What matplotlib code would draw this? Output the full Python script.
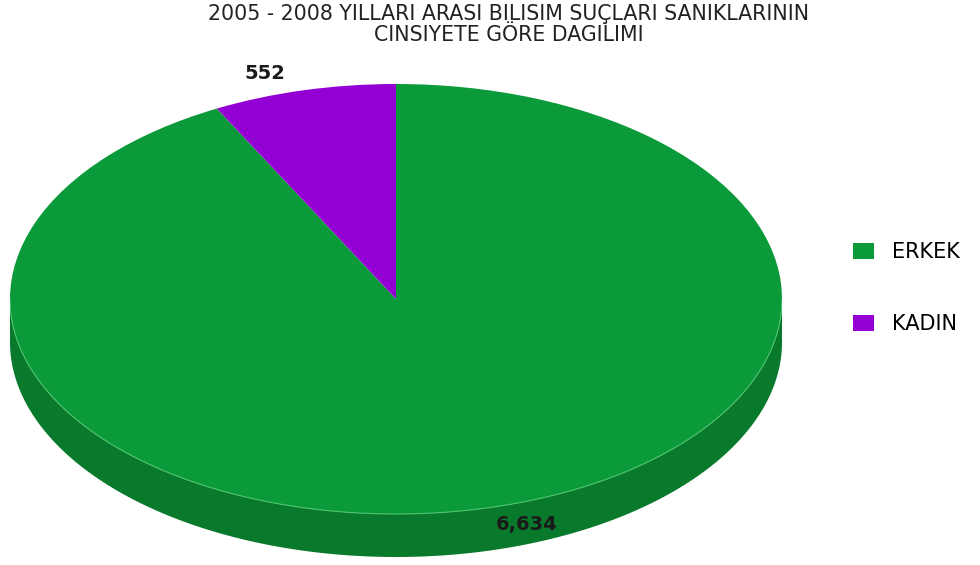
import numpy as np
import matplotlib
matplotlib.use('Agg')
import matplotlib.pyplot as plt
from matplotlib.patches import Patch

labels = ['ERKEK', 'KADIN']
values = [6634, 552]
value_text = ['6,634', '552']
colors = ['#0b9a3a', '#9400d3']
side_color = '#097a2b'
depth = 0.2

fig = plt.figure(figsize=(9.8, 5.65), dpi=100)
fig.patch.set_facecolor('white')
plt.rcParams['font.family'] = ['DejaVu Sans']

# pie body: circle of radius 1 squashed to an ellipse by the axes box
ax = fig.add_axes([10 / 980, 8 / 565, 772 / 980, 473 / 565])

# side wall of the lower half
t = np.linspace(np.pi, 2 * np.pi, 200)
xs = np.concatenate([np.cos(t), np.cos(t[::-1])])
ys = np.concatenate([np.sin(t), np.sin(t[::-1]) - depth])
ax.fill(xs, ys, color=side_color, lw=0, zorder=1)

wedges, _ = ax.pie(values, colors=colors, startangle=90, counterclock=False,
                   wedgeprops=dict(linewidth=0), radius=1)
for w in wedges:
    w.set_zorder(2)
# light rim along the front edge
ax.plot(np.cos(t), np.sin(t), color='#4cc46c', lw=0.8, zorder=3)

ax.set_aspect('auto')
ax.set_xlim(-1, 1)
ax.set_ylim(-1 - depth, 1)
ax.axis('off')

# value labels at each wedge's middle angle
for w, txt in zip(wedges, value_text):
    mid = np.deg2rad((w.theta1 + w.theta2) / 2)
    ax.text(1.42 * np.cos(mid), 1.08 * np.sin(mid), txt, ha='center', va='center',
            fontsize=14, fontweight='bold', color='#1a1a1a', zorder=4)

fig.text(509 / 980, 1 - 14 / 565, '2005 - 2008 YILLARI ARASI BILISIM SUÇLARI SANIKLARININ',
         ha='center', va='center', fontsize=14.8, color='#222222')
fig.text(509 / 980, 1 - 35 / 565, 'CINSIYETE GÖRE DAGILIMI',
         ha='center', va='center', fontsize=14.8, color='#222222')

handles = [Patch(facecolor=c, edgecolor='none') for c in colors]
fig.legend(handles, labels, loc='upper left', bbox_to_anchor=(853 / 980, 1 - 242 / 565),
           frameon=False, fontsize=15, handlelength=1.0, handleheight=0.77,
           labelspacing=2.5, handletextpad=0.85, borderpad=0, borderaxespad=0)

fig.savefig('out.png', dpi=100, facecolor='white')
